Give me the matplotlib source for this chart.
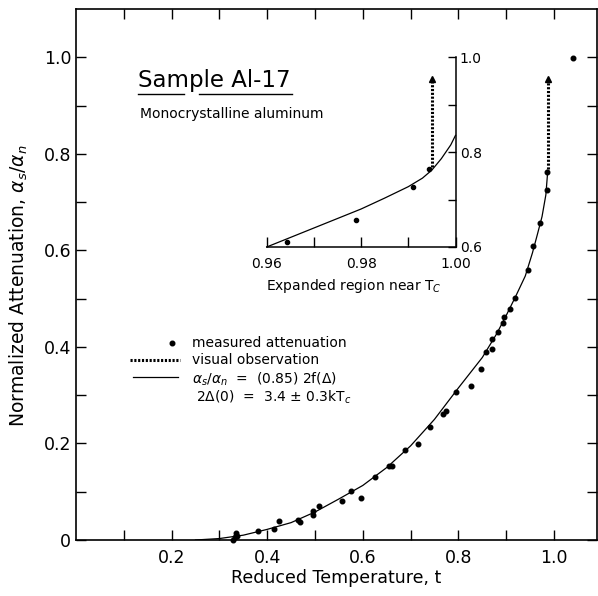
import matplotlib
matplotlib.use("Agg")
import matplotlib.pyplot as plt
from matplotlib.lines import Line2D

plt.rcParams['font.family'] = ['DejaVu Sans']
plt.rcParams['mathtext.fontset'] = 'dejavusans'

# measured attenuation (main panel)
meas_t = [0.329, 0.333, 0.334, 0.337, 0.381, 0.414, 0.425, 0.464, 0.469, 0.495,
          0.495, 0.508, 0.557, 0.575, 0.596, 0.626, 0.655, 0.661, 0.689, 0.715,
          0.741, 0.767, 0.775, 0.795, 0.826, 0.847, 0.858, 0.870, 0.870, 0.882,
          0.893, 0.896, 0.908, 0.918, 0.946, 0.957, 0.971, 0.985, 0.986, 1.039]
meas_a = [0.000, 0.006, 0.014, 0.009, 0.019, 0.022, 0.039, 0.041, 0.038, 0.061,
          0.052, 0.071, 0.081, 0.102, 0.088, 0.130, 0.154, 0.154, 0.187, 0.198,
          0.235, 0.260, 0.267, 0.307, 0.320, 0.355, 0.390, 0.395, 0.416, 0.431,
          0.450, 0.462, 0.478, 0.502, 0.559, 0.609, 0.656, 0.726, 0.763, 0.999]

# theory curve as drawn
fit_t = [0.25, 0.30, 0.35, 0.40, 0.45, 0.50, 0.55, 0.60, 0.65, 0.70, 0.75,
         0.80, 0.85, 0.88, 0.90, 0.92, 0.94, 0.955, 0.965, 0.975, 0.983, 0.987]
fit_a = [0.000, 0.003, 0.010, 0.022, 0.036, 0.058, 0.085, 0.113, 0.150, 0.195, 0.250,
         0.315, 0.378, 0.427, 0.465, 0.505, 0.547, 0.595, 0.632, 0.670, 0.715, 0.765]

# visual observation bar
vis_t = [0.987, 0.987]
vis_a = [0.768, 0.950]

# inset: expanded region near Tc
ins_meas_t = [0.9642, 0.9789, 0.9910, 0.9943]
ins_meas_a = [0.610, 0.657, 0.726, 0.764]
ins_fit_t = [0.960, 0.965, 0.970, 0.975, 0.980, 0.985, 0.990, 0.993, 0.995, 0.997, 0.999, 1.000]
ins_fit_a = [0.600, 0.620, 0.640, 0.660, 0.680, 0.703, 0.727, 0.745, 0.762, 0.786, 0.815, 0.835]
ins_vis_t = [0.995, 0.995]
ins_vis_a = [0.768, 0.950]

x_ticks = [0.1, 0.2, 0.3, 0.4, 0.5, 0.6, 0.7, 0.8, 0.9, 1.0]
x_labels = ['', '0.2', '', '0.4', '', '0.6', '', '0.8', '', '1.0']
y_ticks = [0.0, 0.1, 0.2, 0.3, 0.4, 0.5, 0.6, 0.7, 0.8, 0.9, 1.0]
y_labels = ['0', '', '0.2', '', '0.4', '', '0.6', '', '0.8', '', '1.0']
ins_x_ticks = [0.96, 0.97, 0.98, 0.99, 1.00]
ins_x_labels = ['0.96', '', '0.98', '', '1.00']
ins_y_ticks = [0.6, 0.7, 0.8, 0.9, 1.0]
ins_y_labels = ['0.6', '', '0.8', '', '1.0']

W, H = 598, 596


def fx(x):
    return x / W


def fy(y):
    return 1 - y / H


dot_style = dict(color='black', linewidth=2.2, linestyle=(0, (0.7, 0.55)))

fig = plt.figure(figsize=(5.98, 5.96), dpi=100)
ax = fig.add_axes([fx(76), fy(540), (597 - 76) / W, 531 / H])

ax.plot(fit_t, fit_a, color='black', linewidth=0.9)
ax.plot(meas_t, meas_a, 'o', color='black', markersize=3.3, clip_on=False)
ax.plot(vis_t, vis_a, **dot_style)
ax.plot(vis_t[1], vis_a[1] + 0.004, '^', color='black', markersize=4.5)

ax.set_xlim(0, 1.09)
ax.set_ylim(0, 1.1)
ax.set_xticks(x_ticks)
ax.set_xticklabels(x_labels)
ax.set_yticks(y_ticks)
ax.set_yticklabels(y_labels)
ax.tick_params(direction='in', top=True, right=True, length=7, width=1,
               labelsize=12.5)
ax.tick_params(axis='x', pad=6.5)
ax.tick_params(axis='y', pad=3.5)
for s in ax.spines.values():
    s.set_linewidth(1.2)

ax.set_xlabel('Reduced Temperature, t', fontsize=12.5)
ax.xaxis.set_label_coords(0.5, -0.054)
ax.set_ylabel(r'Normalized Attenuation, $\alpha_s/\alpha_n$', fontsize=13.5)
ax.yaxis.set_label_coords(-0.088, 0.479)

# title block
fig.text(fx(138), fy(87), 'Sample Al-17', fontsize=16.5, va='baseline')
fig.add_artist(Line2D([fx(138), fx(184)], [fy(94), fy(94)], color='black', linewidth=1))
fig.add_artist(Line2D([fx(199), fx(292)], [fy(94), fy(94)], color='black', linewidth=1))
fig.text(fx(140), fy(118), 'Monocrystalline aluminum', fontsize=10, va='baseline')

# key
fig.add_artist(Line2D([fx(172)], [fy(343)], marker='o', markersize=3.3, color='black'))
fig.text(fx(192), fy(343), 'measured attenuation', fontsize=10, va='center')
fig.add_artist(Line2D([fx(130), fx(180)], [fy(360), fy(360)], **dot_style))
fig.text(fx(192), fy(360), 'visual observation', fontsize=10, va='center')
fig.add_artist(Line2D([fx(133), fx(178)], [fy(377), fy(377)], color='black', linewidth=0.9))
fig.text(fx(192), fy(379), r'$\alpha_s/\alpha_n$  =  (0.85) 2f($\Delta$)', fontsize=10, va='center')
fig.text(fx(196), fy(397), r'2$\Delta$(0)  =  3.4 $\pm$ 0.3kT$_c$', fontsize=10, va='center')

# inset
ins = fig.add_axes([fx(266.7), fy(247), (455.5 - 266.7) / W, (247 - 57) / H])
ins.patch.set_alpha(0)
ins.plot(ins_fit_t, ins_fit_a, color='black', linewidth=0.9, clip_on=False)
ins.plot(ins_meas_t, ins_meas_a, 'o', color='black', markersize=3.0, clip_on=False)
ins.plot(ins_vis_t, ins_vis_a, **dot_style)
ins.plot(ins_vis_t[1], ins_vis_a[1] + 0.004, '^', color='black', markersize=4.5)
ins.set_xlim(0.96, 1.00)
ins.set_ylim(0.6, 1.0)
ins.spines['top'].set_visible(False)
ins.spines['left'].set_visible(False)
for s in ('bottom', 'right'):
    ins.spines[s].set_linewidth(1.1)
ins.yaxis.tick_right()
ins.set_xticks(ins_x_ticks)
ins.set_xticklabels(ins_x_labels)
ins.set_yticks(ins_y_ticks)
ins.set_yticklabels(ins_y_labels)
ins.tick_params(axis='x', direction='in', length=7, width=1, pad=7, labelsize=10)
ins.tick_params(axis='y', direction='in', length=6, width=1, pad=3, labelsize=10)
ins.set_xlabel('Expanded region near T$_C$', fontsize=10)
ins.xaxis.set_label_coords(0.46, -0.158)

fig.savefig('out.png', dpi=100)
